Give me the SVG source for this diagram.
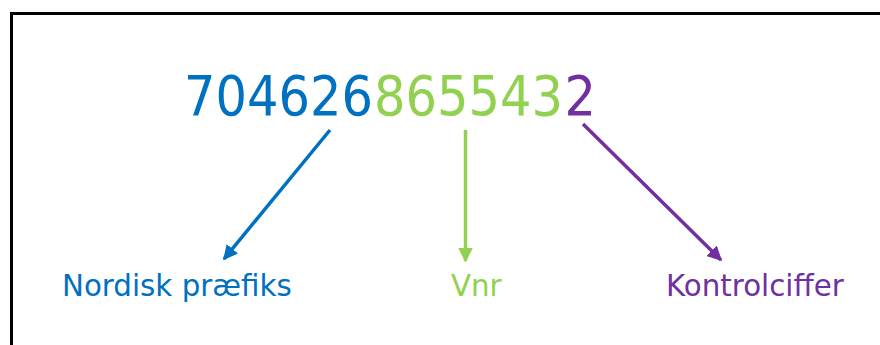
<svg xmlns="http://www.w3.org/2000/svg" width="880" height="345" viewBox="0 0 880 345">
  <style>
    text { font-family: "DejaVu Sans", Verdana, sans-serif; }
    .num { font-size: 49.5px; }
    .lbl { font-size: 29.3px; }
    .blue { fill: #0070C0; }
    .green { fill: #92D050; }
    .purple { fill: #7030A0; }
    .line { stroke-width: 3.5; fill: none; }
  </style>
  <defs>
    <marker id="ahBlue" viewBox="0 0 10 10" refX="9" refY="5" markerWidth="4.2" markerHeight="4.2" orient="auto" markerUnits="strokeWidth">
      <path d="M0,0 L10,5 L0,10 z" fill="#0070C0"/>
    </marker>
    <marker id="ahGreen" viewBox="0 0 10 10" refX="9" refY="5" markerWidth="4.2" markerHeight="4.2" orient="auto" markerUnits="strokeWidth">
      <path d="M0,0 L10,5 L0,10 z" fill="#92D050"/>
    </marker>
    <marker id="ahPurple" viewBox="0 0 10 10" refX="9" refY="5" markerWidth="4.2" markerHeight="4.2" orient="auto" markerUnits="strokeWidth">
      <path d="M0,0 L10,5 L0,10 z" fill="#7030A0"/>
    </marker>
  </defs>
  <rect x="0" y="0" width="880" height="345" fill="#ffffff"/>
  <path d="M11.5,345 L11.5,13.5 L880,13.5" fill="none" stroke="#000" stroke-width="3"/>
  <g id="number" transform="translate(0,115) scale(1,1.1)">
    <text class="num blue" x="184" y="0">704626</text>
    <text class="num green" x="374" y="0">865543</text>
    <text class="num purple" x="564.5" y="0">2</text>
  </g>
  <g id="connectors">
    <line class="line" x1="330" y1="130" x2="224" y2="259" stroke="#0070C0" marker-end="url(#ahBlue)"/>
    <line class="line" x1="465.5" y1="130" x2="465.5" y2="261" stroke="#92D050" marker-end="url(#ahGreen)"/>
    <line class="line" x1="583" y1="124" x2="721" y2="260" stroke="#7030A0" marker-end="url(#ahPurple)"/>
  </g>
  <g id="prefix">
    <text class="lbl blue" x="62" y="296">Nordisk præfiks</text>
  </g>
  <g id="vnr">
    <text class="lbl green" x="451" y="296">Vnr</text>
  </g>
  <g id="control">
    <text class="lbl purple" x="666" y="296">Kontrolciffer</text>
  </g>
</svg>
